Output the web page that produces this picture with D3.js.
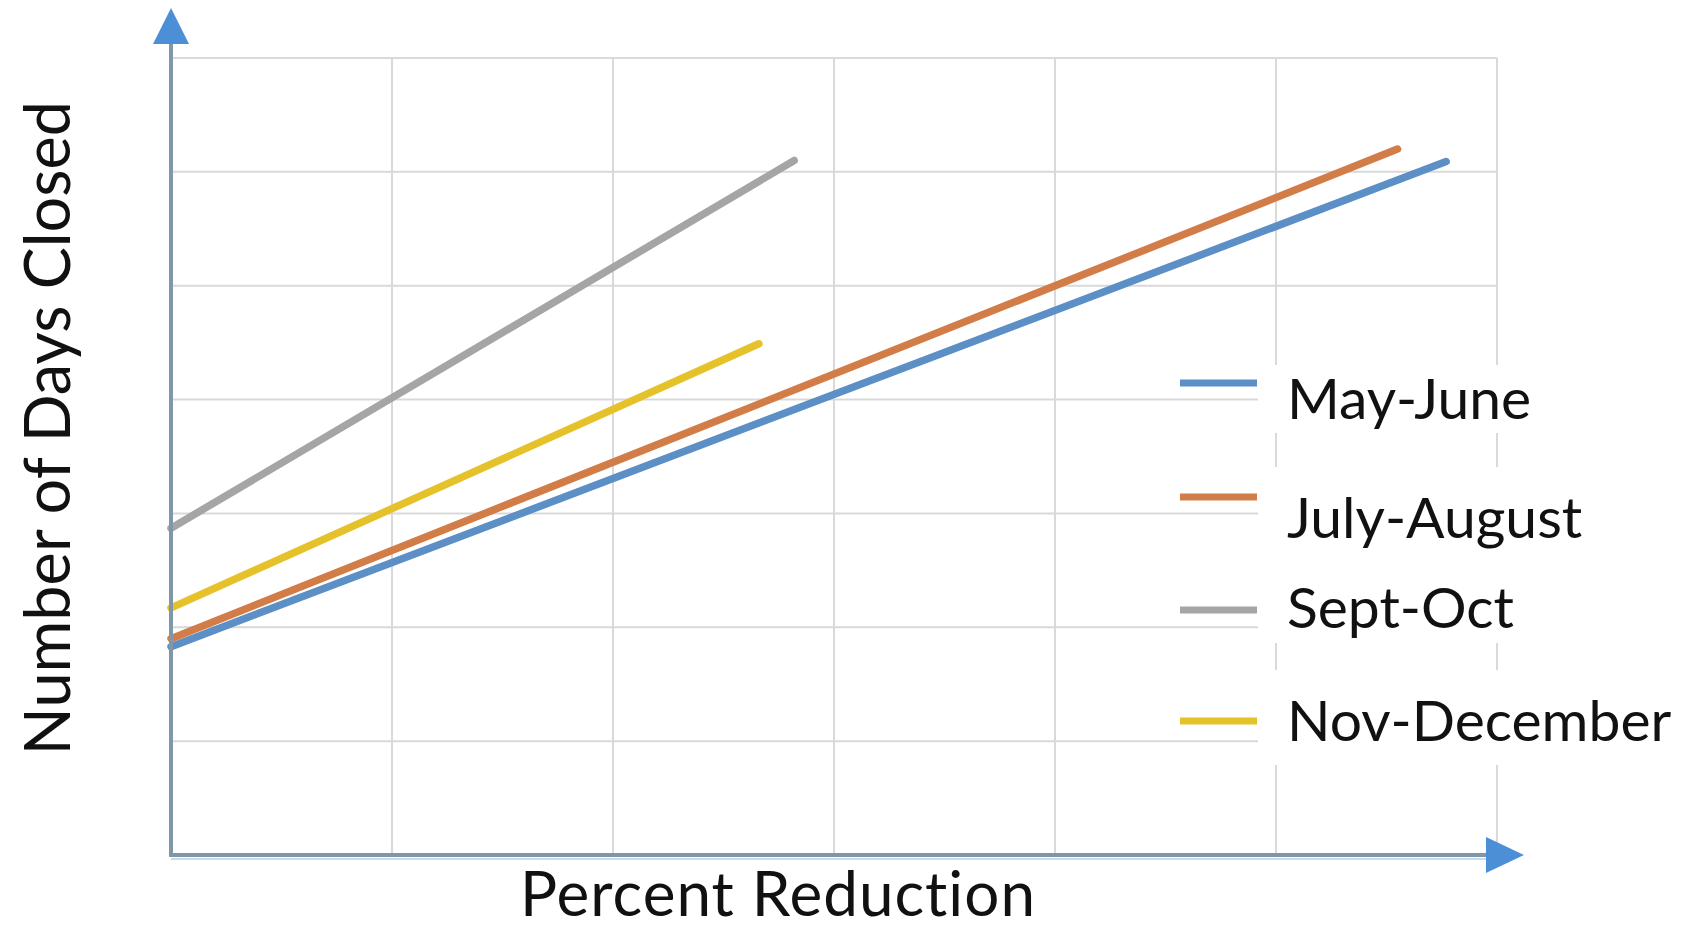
<!DOCTYPE html>
<html>
<head>
<meta charset="utf-8">
<script src="https://cdn.jsdelivr.net/npm/d3@7"></script>
<style>
  body { margin: 0; background: #fff; }
  svg { display: block; font-family: Lato, "Open Sans", sans-serif; }
</style>
</head>
<body>
<svg id="chart" width="1682" height="931"></svg>
<script>
// grid steps (no tick labels are shown on the original)
const xSteps = [0, 1, 2, 3, 4, 5, 6];
const ySteps = [0, 1, 2, 3, 4, 5, 6, 7];

// series values, [percent step, days step]
const mayJune = [[0, 1.83], [5.77, 6.09]];
const julyAugust = [[0, 1.9], [5.55, 6.2]];
const septOct = [[0, 2.87], [2.82, 6.1]];
const novDecember = [[0, 2.17], [2.66, 4.49]];

const seriesNames = ["May-June", "July-August", "Sept-Oct", "Nov-December"];
const seriesColors = ["#5b8fc6", "#d27c48", "#a5a5a5", "#e6c22a"];
const seriesData = [mayJune, julyAugust, septOct, novDecember];

const xLabel = "Percent Reduction";
const yLabel = "Number of Days Closed";

const svg = d3.select("#chart");
const plotLeft = 171, plotRight = 1497, plotTop = 58, plotBottom = 855;

const xScale = d3.scaleLinear().domain([0, 6]).range([plotLeft, plotRight]);
const yScale = d3.scaleLinear().domain([0, 7]).range([plotBottom, plotTop]);

// gridlines
const grid = svg.append("g").attr("class", "grid");
grid.selectAll(".vgrid")
  .data(xSteps.slice(1))
  .join("line")
  .attr("x1", (d) => xScale(d))
  .attr("x2", (d) => xScale(d))
  .attr("y1", yScale(7))
  .attr("y2", yScale(0))
  .attr("stroke", "#d9d9d9")
  .attr("stroke-width", 2);
grid.selectAll(".hgrid")
  .data(ySteps.slice(1))
  .join("line")
  .attr("x1", xScale(0))
  .attr("x2", xScale(6))
  .attr("y1", (d) => yScale(d))
  .attr("y2", (d) => yScale(d))
  .attr("stroke", "#d9d9d9")
  .attr("stroke-width", 2);

// lines
const line = d3.line()
  .x((d) => xScale(d[0]))
  .y((d) => yScale(d[1]));

svg.append("g")
  .attr("class", "series")
  .selectAll("path")
  .data(seriesData)
  .join("path")
  .attr("d", line)
  .attr("fill", "none")
  .attr("stroke", (d, i) => seriesColors[i])
  .attr("stroke-width", 7.5)
  .attr("stroke-linecap", "round");

// axes with arrow heads
const axisColor = "#7f97a6";
const arrowColor = "#4d8fd6";
const axes = svg.append("g").attr("class", "axes");
axes.append("line")
  .attr("x1", xScale(0)).attr("x2", xScale(0))
  .attr("y1", yScale(0) + 2).attr("y2", 40)
  .attr("stroke", axisColor).attr("stroke-width", 4);
axes.append("line")
  .attr("x1", xScale(0) - 2).attr("x2", 1490)
  .attr("y1", yScale(0)).attr("y2", yScale(0))
  .attr("stroke", axisColor).attr("stroke-width", 4);
axes.append("line")
  .attr("x1", xScale(0)).attr("x2", 1490)
  .attr("y1", yScale(0) + 4).attr("y2", yScale(0) + 4)
  .attr("stroke", "#c9dcec").attr("stroke-width", 2);
axes.append("path")
  .attr("d", `M${xScale(0)},8 L${xScale(0) - 18},44 L${xScale(0) + 18},44 Z`)
  .attr("fill", arrowColor);
axes.append("path")
  .attr("d", `M1524,${yScale(0)} L1486,${yScale(0) - 18} L1486,${yScale(0) + 18} Z`)
  .attr("fill", arrowColor);

// axis titles
svg.append("text")
  .attr("x", 778)
  .attr("y", 916)
  .attr("text-anchor", "middle")
  .style("font-size", "62px")
  .style("letter-spacing", "1px")
  .style("fill", "#111")
  .text(xLabel);
svg.append("text")
  .attr("transform", "translate(70, 428) rotate(-90)")
  .attr("text-anchor", "middle")
  .style("font-size", "63px")
  .style("fill", "#111")
  .text(yLabel);

// legend
const legendLineY = [383, 497, 610, 721];
const legendTextY = [419, 538, 628, 741];
const legendBox = [[365, 433], [467, 560], [560, 643], [670, 765]];

const legend = svg.append("g").attr("class", "legend");
seriesNames.forEach((name, i) => {
  legend.append("rect")
    .attr("x", 1258)
    .attr("y", legendBox[i][0])
    .attr("width", 420)
    .attr("height", legendBox[i][1] - legendBox[i][0])
    .attr("fill", "#fff");
  legend.append("line")
    .attr("x1", 1180).attr("x2", 1257)
    .attr("y1", legendLineY[i]).attr("y2", legendLineY[i])
    .attr("stroke", seriesColors[i])
    .attr("stroke-width", 7);
  legend.append("text")
    .attr("x", 1287)
    .attr("y", legendTextY[i])
    .style("font-size", "57px")
    .style("fill", "#111")
    .text(name);
});
</script>
</body>
</html>
